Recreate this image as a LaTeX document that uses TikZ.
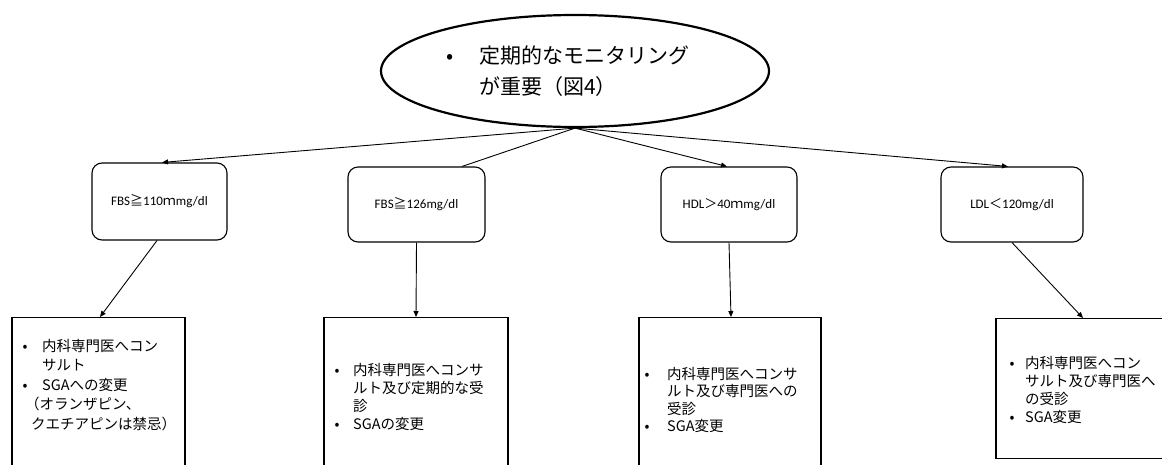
\documentclass[tikz,border=0pt]{standalone}
\usepackage{fontspec}
\setmainfont{Noto Sans CJK JP}
\newfontfamily\latf{Carlito}
\newfontfamily\cjkf{Noto Sans CJK JP}
\usetikzlibrary{arrows.meta,calc,shapes.geometric}
\begin{document}
\begin{tikzpicture}[x=1pt,y=-1pt,
  cond/.style={draw, rounded corners=10pt, line width=1.1pt, inner sep=0pt,
    minimum height=75pt, font=\latf\fontsize{13}{15}\selectfont},
  act/.style={draw, line width=1.3pt, inner sep=0pt},
  txt/.style={anchor=base west, align=left, inner sep=0pt},
  arr/.style={-{Triangle[length=6pt,width=5pt]}, line width=0.9pt},
  plain/.style={line width=0.9pt}]
\useasboundingbox (0,0) rectangle (1162,464);
\clip (0,0) rectangle (1162,464);
% top ellipse
\node[draw, ellipse, line width=2.2pt, minimum width=388pt, minimum height=112pt, inner sep=0pt] (top) at (575,71) {};
\node[txt, font=\fontsize{21}{31}\selectfont] (toptext) at (450,94)
  {\makebox[0pt][c]{•}\hspace{29pt}定期的なモニタリング\\\hspace*{29pt}が重要（図4）};
\coordinate (hub) at (top.south);
% condition boxes
\node[cond, minimum width=135pt, minimum height=77pt] (b1) at (159.5,201.5) {FBS{\cjkf ≧}110{\cjkf ｍ}mg/dl};
\node[cond, minimum width=137pt] (b2) at (416.5,204.5) {FBS{\cjkf ≧}126mg/dl};
\node[cond, minimum width=136pt] (b3) at (729,204.5) {HDL{\cjkf ＞}40{\cjkf ｍ}mg/dl};
\node[cond, minimum width=142pt] (b4) at (1012,204.5) {LDL{\cjkf ＜}120mg/dl};
% action boxes
\node[act, minimum width=173pt, minimum height=170pt, anchor=north] (a1) at (98.5,317) {};
\node[act, minimum width=184pt, minimum height=170pt, anchor=north] (a2) at (416,317) {};
\node[act, minimum width=182pt, minimum height=170pt, anchor=north] (a3) at (730,317) {};
\node[act, minimum width=174pt, minimum height=140pt, anchor=north] (a4) at (1083,318) {};
% texts in action boxes (anchored at the baseline of the last line)
\node[txt, font=\fontsize{14.5}{19.5}\selectfont] (t1) at (25,429)
  {\makebox[0pt][c]{•}\hspace{17pt}内科専門医へコン\\
   \hspace*{17pt}サルト\\
   \makebox[0pt][c]{•}\hspace{17pt}SGAへの変更\\
   （オランザピン、\\
   \hspace*{6pt}クエチアピンは禁忌）};
\node[txt, font=\fontsize{14.5}{17.7}\selectfont] (t2) at (337,429)
  {\makebox[0pt][c]{•}\hspace{16pt}内科専門医へコンサ\\
   \hspace*{16pt}ルト及び定期的な受\\
   \hspace*{16pt}診\\
   \makebox[0pt][c]{•}\hspace{16pt}SGAの変更};
\node[txt, font=\fontsize{14.5}{17.5}\selectfont] (t3) at (647,431.5)
  {\makebox[0pt][c]{•}\hspace{20pt}内科専門医へコンサ\\
   \hspace*{20pt}ルト及び専門医への\\
   \hspace*{20pt}受診\\
   \makebox[0pt][c]{•}\hspace{20pt}SGA変更};
\node[txt, font=\fontsize{14.5}{18}\selectfont] (t4) at (1012,422)
  {\makebox[0pt][c]{•}\hspace{13pt}内科専門医へコン\\
   \hspace*{13pt}サルト及び専門医へ\\
   \hspace*{13pt}の受診\\
   \makebox[0pt][c]{•}\hspace{13pt}SGA変更};
% connectors from ellipse
\draw[arr] (hub) -- ($(b1.north)+(2.5,0)$);
\draw[plain] (hub) -- ($(b2.north)+(45.5,0)$);
\draw[arr] (hub) -- ($(b3.north)+(-2,0)$);
\draw[arr] (hub) -- ($(b4.north)+(-4,0)$);
% connectors to actions
\draw[arr] ($(b1.south)+(-2.5,0)$) -- ($(a1.north)+(1.5,0)$);
\draw[arr] (b2.south) -- (a2.north);
\draw[arr] (b3.south) -- ($(a3.north)+(1,0)$);
\draw[arr] (b4.south) -- (a4.north);
\end{tikzpicture}
\end{document}
